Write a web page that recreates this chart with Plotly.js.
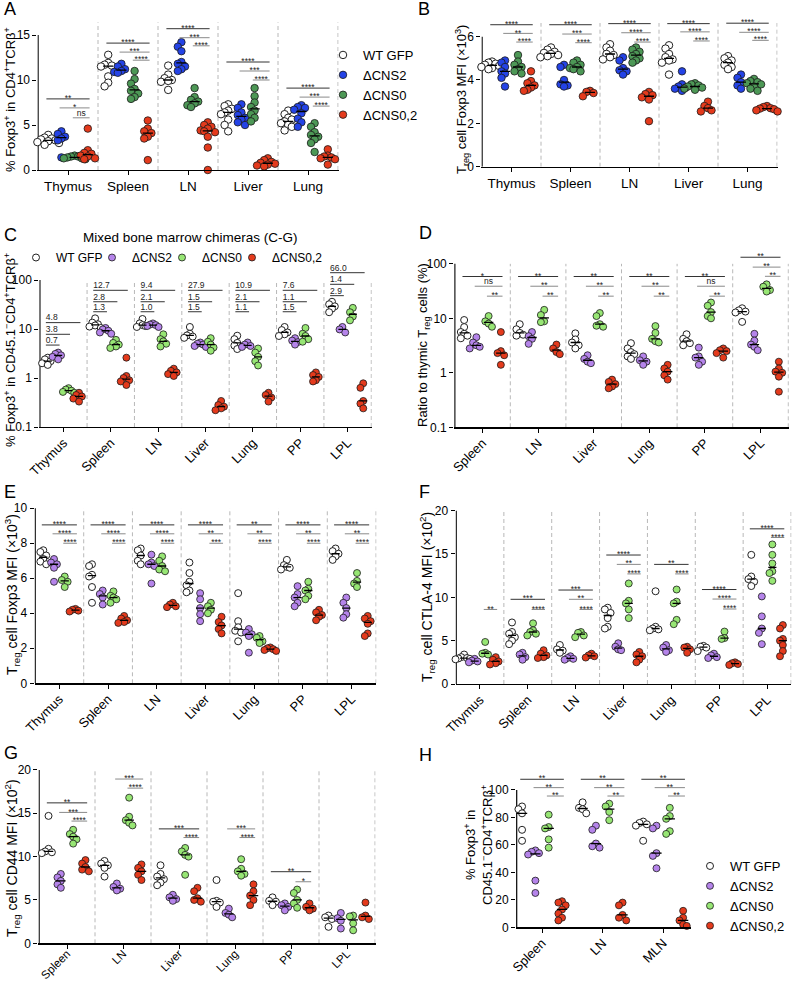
<!DOCTYPE html>
<html><head><meta charset="utf-8">
<script src="https://cdn.plot.ly/plotly-3.0.1.min.js"></script>
<style>html,body{margin:0;padding:0;background:#fff}#chart{width:792px;height:981px}</style>
</head><body><div id="chart"></div>
<script>
const groups = ['WT GFP','ΔCNS2','ΔCNS0','ΔCNS0,2'];

// ---------- Panel A ----------
const tissuesA = ['Thymus','Spleen','LN','Liver','Lung'];
const A_WT = [[3.9,3.6,3.5,3.4,3.3,3.2,3.1,3.0,2.8],[12.8,11.9,11.7,11.6,11.5,10.4,9.7,9.3],[11.6,10.6,10.2,10.0,9.9,9.8,8.9],[7.3,7.1,6.8,6.6,6.4,6.2,5.6,5.0,4.3],[6.6,6.2,5.8,5.6,5.4,5.2,5.0,4.8,4.4]];
const A_CNS2 = [[4.3,4.0,3.7,3.5,3.3,1.4],[11.8,11.5,11.2,11.0,10.9,10.8],[14.2,13.7,13.2,12.0,11.8,11.5,11.2,11.0],[7.3,6.9,6.4,6.1,5.8,5.6,5.3,5.0],[7.2,7.0,6.9,6.7,6.3,5.7,5.3,4.8]];
const A_CNS0 = [[1.6,1.5,1.5,1.4,1.3,1.3,1.2],[11.0,10.1,9.6,9.0,8.8,8.5,8.1,7.9],[9.1,8.1,7.8,7.6,7.4,7.2,7.0],[9.1,8.2,7.5,7.0,6.6,6.2,5.8,5.4],[5.2,4.8,4.2,3.9,3.7,3.4,3.0,2.0]];
const A_CNS02 = [[4.6,2.2,1.9,1.8,1.6,1.5,1.3,1.2],[5.5,4.6,4.3,4.1,3.7,3.5,1.1],[5.3,5.0,4.8,4.6,4.4,4.3,4.2,3.7,2.5,0.0],[1.3,1.1,0.9,0.8,0.7,0.6,0.5,0.4],[2.3,1.6,1.5,1.4,1.3,1.2,0.6]];
const sigA = [[0,0,3,7.9,'**'],[0,1,3,6.9,'*'],[0,2,3,5.8,'ns'],[1,0,3,14.1,'****'],[1,1,3,13.1,'***'],[1,2,3,12.2,'****'],[2,0,3,15.7,'****'],[2,1,3,14.7,'***'],[2,2,3,13.8,'****'],[3,0,3,12.0,'****'],[3,1,3,11.0,'***'],[3,2,3,10.0,'****'],[4,0,3,9.1,'****'],[4,1,3,8.1,'***'],[4,2,3,7.1,'****']];

// ---------- Panel B ----------
const tissuesB = ['Thymus','Spleen','LN','Liver','Lung'];
const B_WT = [[4.85,4.8,4.75,4.7,4.65,4.6,4.55,4.5],[5.5,5.4,5.3,5.25,5.2,5.15,5.1,5.05],[5.65,5.5,5.35,5.2,5.15,5.05,4.95],[5.6,5.45,5.2,5.05,4.95,4.9,4.8,4.25],[5.1,5.0,4.9,4.8,4.7,4.6,4.5]];
const B_CNS2 = [[4.9,4.8,4.6,4.4,4.3,4.1,3.7],[4.7,4.6,4.0,3.8,3.75,3.7],[5.05,4.9,4.55,4.45,4.4,4.25],[4.4,3.8,3.7,3.65,3.6,3.5],[4.25,4.1,3.9,3.75,3.6]];
const B_CNS0 = [[5.15,4.85,4.7,4.6,4.5,4.4,4.3],[4.9,4.8,4.7,4.6,4.55,4.5,4.4],[5.5,5.4,5.3,5.2,5.1,5.0,4.9,4.8],[3.85,3.8,3.75,3.7,3.65,3.6,3.55],[4.05,3.95,3.9,3.85,3.8,3.7,3.6,3.5]];
const B_CNS02 = [[4.4,3.95,3.85,3.75,3.65,3.55,3.5],[3.5,3.45,3.4,3.25],[3.45,3.35,3.3,3.2,3.1,2.1],[3.0,2.8,2.7,2.6,2.55],[2.8,2.75,2.7,2.68,2.65,2.6,2.55]];
const sigB = [[0,0,3,6.55,'****'],[0,1,3,6.15,'**'],[0,2,3,5.75,'****'],[1,0,3,6.55,'****'],[1,1,3,6.12,'***'],[1,2,3,5.72,'****'],[2,0,3,6.6,'****'],[2,1,3,6.18,'****'],[2,2,3,5.75,'****'],[3,0,3,6.6,'****'],[3,1,3,6.22,'****'],[3,2,3,5.8,'****'],[4,0,3,6.62,'****'],[4,1,3,6.2,'****'],[4,2,3,5.83,'****']];

// ---------- Panel C ----------
const tissuesC = ['Thymus','Spleen','LN','Liver','Lung','PP','LPL'];
const C_WT = [[2.6,2.4,2.2,2.0,1.85],[16.5,13.5,12.5,11.8,11.2,10.5],[16,13,12,11.5,11],[11,8,7.4,7.0,6.6],[7.3,6.2,5.2,4.6,3.9],[11,9.5,8.5,7.8,7.2],[36,32,29,26,22]];
const C_CNS2 = [[3.3,3.1,2.9,2.7,2.4],[10.5,9.8,9.2,8.5,8.0],[13,12.3,12,11.5,11],[5.3,5.0,4.8,4.5,4.3],[5.3,4.8,4.5,4.3],[6.5,5.8,5.4,4.8],[11,9.8,8.5]];
const C_CNS0 = [[0.62,0.58,0.55,0.52,0.5],[6.0,5.2,4.8,4.4,4.1],[7.8,6.2,5.6,5.0,4.4],[6.5,5.5,4.8,4.2,3.6],[4.0,3.3,2.7,2.2,1.8],[10.5,8,7.2,6.2,5.5],[27,22,18,15]];
const C_CNS02 = [[0.5,0.45,0.42,0.38,0.33],[2.6,1.1,1.0,0.9,0.85,0.72],[1.55,1.4,1.3,1.2,1.1],[0.34,0.28,0.26,0.24,0.22],[0.5,0.45,0.4,0.33],[1.3,1.15,1.05,0.9,0.85],[0.78,0.63,0.34,0.3,0.24]];
const sigC = [[0,0,3,13.5,'4.8'],[0,0,2,7.8,'3.8'],[0,0,1,4.7,'0.7'],[1,0,3,61.6,'12.7'],[1,0,2,36,'2.8'],[1,0,1,22.5,'1.3'],[2,0,3,61.6,'9.4'],[2,0,2,36,'2.1'],[2,0,1,22.5,'1.0'],[3,0,3,61.6,'27.9'],[3,0,2,36,'1.5'],[3,0,1,22.5,'1.5'],[4,0,3,61.6,'10.9'],[4,0,2,36,'2.1'],[4,0,1,22.5,'1.1'],[5,0,3,61.6,'7.6'],[5,0,2,36,'1.1'],[5,0,1,22.5,'1.5'],[6,0,3,141,'66.0'],[6,0,2,81.7,'1.4'],[6,0,1,47.9,'2.9']];

// ---------- Panel D ----------
const tissuesD = ['Spleen','LN','Liver','Lung','PP','LPL'];
const D_WT = [[9.3,6.9,5.6,5.2,4.8,4.3],[7.8,6.3,5.4,5.0,4.8],[5.3,4.1,3.6,3.2,2.8],[3.5,2.8,2.4,2.2,2.0,1.8],[5.1,4.2,3.8,3.5,3.2],[15.3,14,13.3,12.8,8.6]];
const D_CNS2 = [[4.5,3.6,3.2,3.0,2.8],[5.6,4.7,4.2,3.4],[2.1,1.8,1.6,1.5],[2.0,1.7,1.6,1.4],[2.9,2.0,1.9,1.6,1.4],[5.2,3.9,3.3,3.0,2.6]];
const D_CNS0 = [[11,8.8,8,7],[14.3,11.5,8.8,8.5],[12.5,11,7.8,7.3,7.0],[7.2,5.4,4.2,3.8,3.6],[19.5,17,13,11,10],[42,38,33,31]];
const D_CNS02 = [[5.6,2.5,2.3,2.1,1.4],[3.3,2.8,2.4,2.2],[0.75,0.68,0.62,0.56,0.52],[1.4,1.2,1.05,0.9,0.75],[2.8,2.6,2.5,2.3,1.9],[1.6,1.2,1.05,1.0,0.85,0.45]];
const sigD = [[0,0,3,58.5,'*'],[0,1,3,38.8,'ns'],[0,2,3,25.5,'**'],[1,0,3,58.5,'**'],[1,1,3,38.8,'**'],[1,2,3,25.5,'**'],[2,0,3,58.5,'**'],[2,1,3,38.8,'**'],[2,2,3,25.5,'**'],[3,0,3,58.5,'**'],[3,1,3,38.8,'**'],[3,2,3,25.5,'**'],[4,0,3,58.5,'**'],[4,1,3,38.8,'ns'],[4,2,3,25.5,'**'],[5,0,3,132,'**'],[5,1,3,87,'**'],[5,2,3,59,'**']];

// ---------- Panel E ----------
const tissuesE = ['Thymus','Spleen','LN','Liver','Lung','PP','LPL'];
const E_WT = [[7.6,7.5,7.3,7.1,6.95,6.8],[6.8,6.7,6.2,6.1,5.5,4.6],[7.7,7.6,7.3,7.0,6.8],[6.9,6.3,5.8,5.6,5.3,5.2],[5.15,3.55,3.2,3.0,2.9,2.4],[7.05,6.75,6.65,6.6,6.5],[7.7,7.55,7.4,7.25,7.05]];
const E_CNS2 = [[7.1,6.9,6.8,6.6,5.8],[5.3,5.1,4.9,4.5],[7.35,6.9,6.8,6.7,5.7],[5.15,4.8,4.3,3.95,3.55],[3.1,2.9,2.8,2.7,1.75],[5.55,5.1,4.9,4.6,4.4],[4.9,4.6,4.3,3.95,3.75]];
const E_CNS0 = [[6.1,5.9,5.8,5.5],[5.25,5.0,4.9,4.8,4.6],[7.25,7.0,6.7,6.5,6.4],[4.6,4.4,4.2,4.0],[2.7,2.6,2.4,2.3],[5.8,5.4,5.3,5.0,4.8],[6.3,5.85,5.7,5.5]];
const E_CNS02 = [[4.25,4.2,4.15,4.1],[3.85,3.7,3.6,3.5,3.45],[4.6,4.5,4.4,4.35],[3.8,3.5,3.3,3.1,2.85],[2.05,2.0,1.95,1.9,1.85],[4.2,4.05,3.9,3.8,3.6],[3.85,3.7,3.55,3.4,2.85,2.7]];
const sigE = [[0,0,3,9.05,'****'],[0,1,3,8.54,'****'],[0,2,3,8.0,'****'],[1,0,3,9.05,'****'],[1,1,3,8.54,'****'],[1,2,3,8.0,'****'],[2,0,3,9.05,'****'],[2,1,3,8.54,'****'],[2,2,3,8.0,'****'],[3,0,3,9.05,'****'],[3,1,3,8.54,'**'],[3,2,3,8.0,'***'],[4,0,3,9.05,'**'],[4,1,3,8.54,'**'],[4,2,3,8.0,'****'],[5,0,3,9.05,'****'],[5,1,3,8.54,'**'],[5,2,3,8.0,'****'],[6,0,3,9.05,'****'],[6,1,3,8.54,'**'],[6,2,3,8.0,'****']];

// ---------- Panel F ----------
const tissuesF = ['Thymus','Spleen','LN','Liver','Lung','PP','LPL'];
const F_WT = [[3.4,3.1,3.0,2.95,2.9,2.85],[7.1,6.0,5.8,5.4,5.0,4.6],[4.5,4.0,3.85,3.6],[8.8,8.6,8.2,7.6,6.6,6.4],[10.7,6.6,6.4,6.3,6.2],[4.4,4.3,4.2,3.8],[14.9,12.4,12.1,11.8,11.3]];
const F_CNS2 = [[2.9,2.7,2.6,2.5],[3.6,3.4,3.1,2.8],[3.2,3.0,2.9,2.8],[4.7,4.3,4.0,3.9],[4.5,4.2,3.9,3.7],[3.5,3.3,3.1,3.0],[10.1,7.8,6.4,5.9,4.6]];
const F_CNS0 = [[4.85,3.6,3.5,3.4],[7.0,6.2,6.0,5.8,5.6],[6.0,5.9,5.6,5.4],[11.6,9.6,9.3,8.6,7.6],[10.9,9.5,9.3,7.4,6.9],[6.05,5.3,5.2],[16.1,14.9,13.9,13.0,12.8,11.9]];
const F_CNS02 = [[3.1,2.8,2.6,2.4,2.25],[3.9,3.5,3.3,3.1,3.0],[3.5,3.3,3.2,3.05],[3.7,3.4,3.2,2.8,2.5],[4.3,4.2,4.0,3.6],[2.5,2.4,2.3,2.2],[6.8,6.4,5.2,5.0,4.5,3.8,3.2]];
const sigF = [[0,2,3,8.6,'**'],[1,0,3,9.77,'***'],[1,2,3,8.6,'****'],[2,0,3,10.84,'***'],[2,1,3,9.77,'**'],[2,2,3,8.6,'****'],[3,0,3,14.88,'****'],[3,1,3,13.8,'**'],[3,2,3,12.7,'****'],[4,0,3,13.8,'**'],[4,2,3,12.7,'****'],[5,0,3,10.9,'****'],[5,1,3,9.8,'****'],[5,2,3,8.65,'****'],[6,0,3,17.9,'****'],[6,2,3,16.9,'****']];

// ---------- Panel G ----------
const tissuesG = ['Spleen','LN','Liver','Lung','PP','LPL'];
const G_WT = [[14.7,10.9,10.6,10.5,10.4],[9.5,9.2,9.0,8.7,7.7],[9.0,8.0,7.7,7.4,7.0,6.7],[7.3,4.9,4.8,4.7,4.2],[5.3,4.9,4.8,4.4],[3.2,3.0,2.8,1.9]];
const G_CNS2 = [[8.0,7.6,7.2,6.8,6.4],[6.9,6.5,6.3,6.1],[5.6,5.3,5.1,4.9],[4.0,3.5,3.3,3.0],[4.6,4.4,4.2,3.8],[3.5,2.9,2.6,1.7]];
const G_CNS0 = [[13.1,12.6,12.3,12.0,11.5],[16.8,14.6,14.2,13.9,13.6],[11.0,10.6,10.2,10.0,7.9],[9.7,8.6,8.3,8.0,7.8],[6.2,5.8,5.0,4.6,4.1],[3.2,3.1,2.3,1.5]];
const G_CNS02 = [[9.6,9.2,8.8,8.5,8.3],[9.1,8.7,8.3,7.9,7.3],[6.4,6.0,5.2,5.0,4.8],[6.8,6.0,5.5,5.0,4.4],[4.6,4.2,4.0,3.8],[4.7,3.2,3.0,2.8]];
const sigG = [[0,0,3,16.2,'**'],[0,1,3,15.1,'***'],[0,2,3,14.1,'****'],[1,1,3,18.95,'***'],[1,2,3,17.9,'****'],[2,0,3,13.2,'***'],[2,2,3,12.2,'****'],[3,1,3,13.2,'***'],[3,2,3,12.2,'****'],[4,0,3,8.26,'**'],[4,2,3,7.1,'*']];

// ---------- Panel H ----------
const tissuesH = ['Spleen','LN','MLN'];
const H_WT = [[88,86,83,71,63],[91,87,86,83],[77,76,75,74,63]];
const H_CNS2 = [[56,55,54,53,34,25],[74,71,61,59,58],[74,72,54,52,43]];
const H_CNS0 = [[82,73,72,64,58],[90,88,84,78],[87,81,79,70,68]];
const H_CNS02 = [[19,18,16,13,10,7,5],[18,16,9,7,5],[12,7,5,2,1]];
const sigH = [[0,0,3,107.8,'**'],[0,1,3,101.7,'**'],[0,2,3,95.6,'**'],[1,0,3,107.8,'**'],[1,1,3,101.7,'**'],[1,2,3,95.6,'**'],[2,0,3,107.8,'**'],[2,1,3,101.7,'**'],[2,2,3,95.6,'**']];

// ---------- styling / layout ----------
const FONT = 'Arial, "Liberation Sans", Helvetica, sans-serif';
const W = 792, H = 981;
const palAB = ['#ffffff','#2443e6','#4d9856','#e43a1c'];
const palCH = ['#ffffff','#b584ea','#97e674','#e43a1c'];
const OFF = [-0.33,-0.11,0.11,0.33];
const legendWidthC = [31,25,25,null];

const panels = [
  {tissues:tissuesA, data:[A_WT,A_CNS2,A_CNS0,A_CNS02], sig:sigA, a:[38,338], ypx:[21.5,170], yr:[0,16.5], sepTop:16.4, ticks:[0,5,10,15], log:false, pal:palAB, angle:0, legend:'legend', ms:7.5, sep:true, fold:false, xfs:13.5, standoff:0},
  {tissues:tissuesB, data:[B_WT,B_CNS2,B_CNS0,B_CNS02], sig:sigB, a:[482,777], ypx:[19.3,166.7], yr:[0,6.8], sepTop:6.63, ticks:[0,2,4,6], log:false, pal:palAB, angle:0, legend:null, ms:7.5, sep:true, fold:false, xfs:13.5, standoff:0},
  {tissues:tissuesC, data:[C_WT,C_CNS2,C_CNS0,C_CNS02], sig:sigC, a:[39.7,371.3], ypx:[260.4,427], yr:[-1,2.4], sepTop:100, ticks:[0.1,1,10,100], log:true, pal:palCH, angle:-45, legend:'legend2', ms:7, sep:true, fold:true, xfs:13, standoff:-2},
  {tissues:tissuesD, data:[D_WT,D_CNS2,D_CNS0,D_CNS02], sig:sigD, a:[454.7,788.3], ypx:[250.2,427.3], yr:[-1,2.25], sepTop:100, ticks:[0.1,1,10,100], log:true, pal:palCH, angle:-45, legend:null, ms:7, sep:true, fold:false, xfs:13, standoff:-2},
  {tissues:tissuesE, data:[E_WT,E_CNS2,E_CNS0,E_CNS02], sig:sigE, a:[35,376], ypx:[506.5,683.3], yr:[0,10.1], sepTop:10, ticks:[0,2,4,6,8,10], log:false, pal:palCH, angle:-45, legend:null, ms:7, sep:true, fold:false, xfs:13, standoff:-2},
  {tissues:tissuesF, data:[F_WT,F_CNS2,F_CNS0,F_CNS02], sig:sigF, a:[456,791], ypx:[508.9,684], yr:[0,20.2], sepTop:20, ticks:[0,5,10,15,20], log:false, pal:palCH, angle:-45, legend:null, ms:7, sep:true, fold:false, xfs:13, standoff:-2},
  {tissues:tissuesG, data:[G_WT,G_CNS2,G_CNS0,G_CNS02], sig:sigG, a:[39,375], ypx:[768.2,943.3], yr:[0,20.2], sepTop:20, ticks:[0,5,10,15,20], log:false, pal:palCH, angle:-45, legend:null, ms:7, sep:true, fold:false, xfs:11.5, standoff:-6},
  {tissues:tissuesH, data:[H_WT,H_CNS2,H_CNS0,H_CNS02], sig:sigH, xr:[-0.43,2.46], xpx:[516,691], ypx:[773.5,927.3], yr:[0,112], sepTop:100, ticks:[0,20,40,60,80,100], log:false, pal:palCH, angle:-45, legend:'legend3', ms:7, sep:false, fold:false, xfs:13, standoff:-2}
];

function median(a){const s=[...a].sort((x,y)=>x-y);const m=s.length>>1;return s.length%2?s[m]:(s[m-1]+s[m])/2;}
function spread(vals,thr){
  const order=vals.map((v,i)=>i).sort((a,b)=>vals[b]-vals[a]);
  const placed=[];const offs=new Array(vals.length).fill(0);
  const pattern=[0,-1,1,-2,2,-3,3];
  for(const i of order){
    let k=0;
    for(;k<pattern.length;k++){const o=pattern[k];if(!placed.some(p=>p.o===o&&Math.abs(p.v-vals[i])<thr))break;}
    const o=pattern[Math.min(k,pattern.length-1)];
    placed.push({o:o,v:vals[i]});offs[i]=o;
  }
  return offs;
}

const traces=[];
const layout={width:W,height:H,margin:{l:0,r:0,t:0,b:0,pad:0},autosize:false,paper_bgcolor:'#ffffff',plot_bgcolor:'rgba(0,0,0,0)',
  font:{family:FONT,color:'#111'},showlegend:true,hovermode:false,annotations:[]};

panels.forEach((p,idx)=>{
  const k=idx+1, xa='x'+(k===1?'':k), ya='y'+(k===1?'':k);
  const n=p.tissues.length;
  let xr,xpx;
  if(p.xr){xr=p.xr;xpx=p.xpx;}else{const e=0.01,ppu=(p.a[1]-p.a[0])/n;xr=[-0.5-e,n-0.5+e];xpx=[p.a[0]-e*ppu,p.a[1]+e*ppu];}
  const hpx=p.ypx[1]-p.ypx[0];
  const ybot=p.log?Math.pow(10,p.yr[0]):p.yr[0];
  const tv=v=>p.log?Math.log10(Math.max(v,1e-9)):v;
  const thr=(p.yr[1]-p.yr[0])*6/hpx;
  const step=0.06;
  const xax={domain:[xpx[0]/W,xpx[1]/W],range:xr,anchor:ya,tickmode:'array',tickvals:p.tissues.map((t,i)=>i),ticktext:p.tissues,
    ticks:'outside',ticklen:4,tickwidth:1,tickcolor:'#000',showline:true,linecolor:'#000',linewidth:1.2,showgrid:false,zeroline:false,
    tickangle:p.angle,tickfont:{size:p.xfs,color:'#000',family:FONT},fixedrange:true};
  if(p.standoff) xax.ticklabelstandoff=p.standoff;
  layout['xaxis'+(k===1?'':k)]=xax;
  layout['yaxis'+(k===1?'':k)]={domain:[1-p.ypx[1]/H,1-p.ypx[0]/H],range:p.yr,type:p.log?'log':'linear',anchor:xa,tickmode:'array',tickvals:p.ticks,
    ticktext:p.ticks.map(String),ticks:'outside',ticklen:4,tickwidth:1,tickcolor:'#000',showline:false,showgrid:false,zeroline:false,
    tickfont:{size:12,color:'#000',family:FONT},fixedrange:true};
  // separators
  if(p.sep){
    const sx=[],sy=[];
    for(let t=0;t<n;t++){sx.push(t+0.5,t+0.5,null);sy.push(ybot,p.sepTop,null);}
    traces.push({type:'scatter',mode:'lines',x:sx,y:sy,xaxis:xa,yaxis:ya,line:{color:'#b8b8b8',width:1,dash:'4px,3px'},showlegend:false,hoverinfo:'skip'});
  }
  // y axis line
  const ax0=xr[0]+0.7*(xr[1]-xr[0])/(xpx[1]-xpx[0]);
  traces.push({type:'scatter',mode:'lines',x:[ax0,ax0],y:[ybot,p.ticks[p.ticks.length-1]],xaxis:xa,yaxis:ya,line:{color:'#000',width:1.2},showlegend:false,hoverinfo:'skip'});
  // points
  const mx=[],my=[];
  p.data.forEach((arr,g)=>{
    const x=[],y=[];
    arr.forEach((vals,t)=>{
      const offs=spread(vals.map(tv),thr);
      vals.forEach((v,j)=>{x.push(t+OFF[g]+offs[j]*step);y.push(v);});
      const m=median(vals);
      mx.push(t+OFF[g]-0.085,t+OFF[g]+0.085,null);my.push(m,m,null);
    });
    const tr={type:'scatter',mode:'markers',name:groups[g],x:x,y:y,xaxis:xa,yaxis:ya,cliponaxis:false,
      marker:{size:p.ms,color:p.pal[g],line:{color:g===0?'#222':'#1a1a1a',width:g===0?1:0.8}},
      showlegend:!!p.legend,legend:p.legend||'legend',hoverinfo:'skip'};
    if(p.legend==='legend2'&&legendWidthC[g]) tr.legendwidth=legendWidthC[g];
    traces.push(tr);
  });
  traces.push({type:'scatter',mode:'lines',x:mx,y:my,xaxis:xa,yaxis:ya,line:{color:'#000',width:1.3},showlegend:false,hoverinfo:'skip'});
  // significance
  const dx=[],dy=[],gx=[],gy=[],tx=[],ty=[],tt=[],tp=[];
  p.sig.forEach(s=>{
    const [t,a,b,yv,lab]=s;
    const x0=t+OFF[a]-(p.fold?0.04:0.03), x1=t+OFF[b]+0.03;
    if(p.fold||a===0){dx.push(x0,x1,null);dy.push(yv,yv,null);}else{gx.push(x0,x1,null);gy.push(yv,yv,null);}
    if(p.fold){tx.push(x0);tp.push('top right');}
    else{tx.push((x0+x1)/2);tp.push(lab==='ns'?'top center':'middle center');}
    ty.push(yv);tt.push(lab);
  });
  traces.push({type:'scatter',mode:'lines',x:dx,y:dy,xaxis:xa,yaxis:ya,line:{color:'#333',width:1},showlegend:false,hoverinfo:'skip'});
  if(gx.length) traces.push({type:'scatter',mode:'lines',x:gx,y:gy,xaxis:xa,yaxis:ya,line:{color:'#8a8a8a',width:1},showlegend:false,hoverinfo:'skip'});
  traces.push({type:'scatter',mode:'text',x:tx,y:ty,text:tt,textposition:tp,textfont:{size:8.5,color:'#222',family:FONT},cliponaxis:false,xaxis:xa,yaxis:ya,showlegend:false,hoverinfo:'skip'});
});

function ann(text,px,py,size,opts){
  layout.annotations.push(Object.assign({text:text,x:px/W,y:1-py/H,xref:'paper',yref:'paper',showarrow:false,font:{size:size,color:'#000',family:FONT},xanchor:'center',yanchor:'middle'},opts||{}));
}
// panel letters
[['A',2,9],['B',416,9],['C',2,235],['D',417,233],['E',2,492],['F',417,492],['G',2,753],['H',417,755]].forEach(l=>ann(l[0],l[1],l[2],18,{xanchor:'left'}));
// axis titles
ann('% Foxp3<sup>+</sup> in CD4<sup>+</sup>TCRβ<sup>+</sup>',10,100,13,{textangle:-90});
ann('T<sub>reg</sub> cell Foxp3 MFI (×10<sup>3</sup>)',462,100,13,{textangle:-90});
ann('% Foxp3<sup>+</sup> in CD45.1<sup>−</sup>CD4<sup>+</sup>TCRβ<sup>+</sup>',10,350,13,{textangle:-90});
ann('Ratio to thymic T<sub>reg</sub> cells (%)',423,345,13,{textangle:-90});
ann('T<sub>reg</sub> cell Foxp3 MFI (×10<sup>3</sup>)',12,595,14,{textangle:-90});
ann('T<sub>reg</sub> cell CTLA-4 MFI (×10<sup>2</sup>)',427,597,14,{textangle:-90});
ann('T<sub>reg</sub> cell CD44 MFI (×10<sup>2</sup>)',12,858,14,{textangle:-90});
ann('% Foxp3<sup>+</sup> in<br>CD45.1<sup>−</sup>CD4<sup>+</sup>TCRβ<sup>+</sup>',478,845,13,{textangle:-90});
ann('Mixed bone marrow chimeras (C-G)',190,237,13.5);

layout.legend={x:323/W,y:1-40/H,xanchor:'left',yanchor:'top',font:{size:13,color:'#000',family:FONT},bgcolor:'rgba(0,0,0,0)',tracegroupgap:0,borderwidth:0};
layout.legend2={orientation:'h',x:16/W,y:1-243/H,xanchor:'left',yanchor:'top',font:{size:12,color:'#000',family:FONT},bgcolor:'rgba(0,0,0,0)',borderwidth:0};
layout.legend3={x:690/W,y:1-851/H,xanchor:'left',yanchor:'top',font:{size:13,color:'#000',family:FONT},bgcolor:'rgba(0,0,0,0)',tracegroupgap:0,borderwidth:0};

Plotly.newPlot('chart',traces,layout,{staticPlot:true,displayModeBar:false});
</script></body></html>
